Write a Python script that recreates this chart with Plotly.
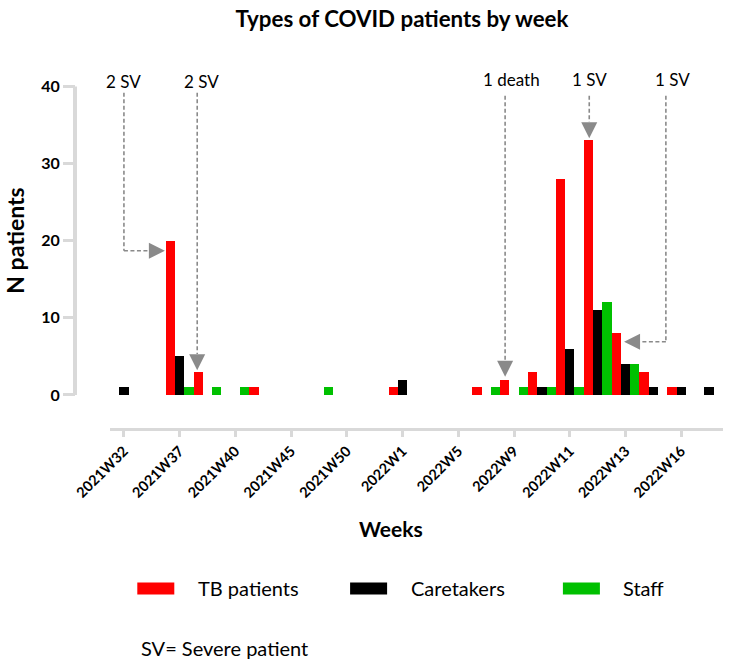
import plotly.graph_objects as go

weeks = ["2021W32", "2021W35", "2021W37", "2021W38", "2021W40", "2021W42",
         "2021W45", "2021W48", "2021W50", "2021W52", "2022W1", "2022W3",
         "2022W5", "2022W8", "2022W9", "2022W10", "2022W11", "2022W12",
         "2022W13", "2022W14", "2022W16", "2022W17"]
tick_weeks = ["2021W32", "2021W37", "2021W40", "2021W45", "2021W50", "2022W1",
              "2022W5", "2022W9", "2022W11", "2022W13", "2022W16"]
tb_patients = [0, 0, 20, 3, 0, 1, 0, 0, 0, 0, 1, 0, 0, 1, 2, 3, 28, 33, 8, 3, 1, 0]
caretakers = [1, 0, 5, 0, 0, 0, 0, 0, 0, 0, 2, 0, 0, 0, 0, 1, 6, 11, 4, 1, 1, 1]
staff = [0, 0, 1, 1, 1, 0, 0, 1, 0, 0, 0, 0, 0, 1, 1, 1, 1, 12, 4, 0, 0, 0]
series_names = ["TB patients", "Caretakers", "Staff"]
series_colors = ["#FF0000", "#000000", "#00C000"]

FONT = "Lato"
GREY = "#d9d9d9"
ARROW = "#8a8a8a"

W, H = 729, 663
ML, MR, MT, MB = 75, 6, 86, 235
PW, PH = W - ML - MR, H - MT - MB


def px(x):
    return (x - ML) / PW


def py(y):
    return (H - MB - y) / PH


fig = go.Figure()
for name, vals, col in zip(series_names, [tb_patients, caretakers, staff], series_colors):
    fig.add_trace(go.Bar(x=weeks, y=vals, name=name, marker=dict(color=col, line=dict(width=0)),
                         showlegend=False))

# annotation arrows (category-index, value coordinates); text y in paper units
arrows = [
    dict(text="2 SV", tx=0.0, ty=py(82), path=[(0.0, 39.2), (0.0, 18.7), (0.88, 18.7)], tip=(1.47, 18.7), ax=-16, ay=0),
    dict(text="2 SV", tx=2.78, ty=py(82), path=[(2.63, 39.2), (2.63, 5.3)], tip=(2.63, 3.2), ax=0, ay=-16),
    dict(text="1 death", tx=13.9, ty=py(79), path=[(13.68, 38.8), (13.68, 4.4)], tip=(13.68, 2.35), ax=0, ay=-16),
    dict(text="1 SV", tx=16.7, ty=py(79), path=[(16.70, 38.8), (16.70, 35.4)], tip=(16.70, 33.3), ax=0, ay=-16),
    dict(text="1 SV", tx=19.68, ty=py(79), path=[(19.45, 38.8), (19.45, 6.9), (18.53, 6.9)], tip=(17.95, 6.9), ax=16, ay=0),
]
shapes = []
annotations = []
for a in arrows:
    pts = a["path"]
    for (x0, y0), (x1, y1) in zip(pts[:-1], pts[1:]):
        shapes.append(dict(type="line", xref="x", yref="y", x0=x0, y0=y0, x1=x1, y1=y1,
                           line=dict(color=ARROW, width=1.6, dash="4px,2.5px")))
    annotations.append(dict(x=a["tip"][0], y=a["tip"][1], xref="x", yref="y", text="",
                            showarrow=True, arrowhead=2, arrowsize=1.6, arrowwidth=2,
                            arrowcolor=ARROW, ax=a["ax"], ay=a["ay"]))
    annotations.append(dict(x=a["tx"], y=a["ty"], xref="x", yref="paper", text=a["text"],
                            showarrow=False, xanchor="center", yanchor="middle",
                            font=dict(family=FONT, size=17, color="#000")))

# y axis line only over the tick range
shapes.append(dict(type="line", xref="paper", yref="y", x0=0, x1=0, y0=0, y1=40,
                   line=dict(color=GREY, width=4)))

# legend (swatch + label)
for i, (name, col) in enumerate(zip(series_names, series_colors)):
    x0 = 137.3 + i * 212.8
    shapes.append(dict(type="rect", xref="paper", yref="paper", x0=px(x0), x1=px(x0 + 37),
                       y0=py(594.5), y1=py(582.5), fillcolor=col, line=dict(width=0)))
    annotations.append(dict(text=name, xref="paper", yref="paper", x=px(x0 + 58.5), y=py(588),
                            showarrow=False, xanchor="left", yanchor="middle",
                            font=dict(family=FONT, size=20, color="#000")))

annotations += [
    dict(text="<b>Weeks</b>", xref="paper", yref="paper", x=px(390.5), y=py(528), showarrow=False,
         font=dict(family=FONT, size=21, color="#000"), xanchor="center", yanchor="middle"),
    dict(text="<b>N patients</b>", xref="paper", yref="y", x=px(15), y=20, showarrow=False,
         textangle=-90, font=dict(family=FONT, size=23, color="#000"), xanchor="center", yanchor="middle"),
    dict(text="SV= Severe patient", xref="paper", yref="paper", x=px(139), y=py(648), showarrow=False,
         font=dict(family=FONT, size=20, color="#000"), xanchor="left", yanchor="middle"),
]

fig.update_layout(
    width=W, height=H,
    margin=dict(l=ML, r=MR, t=MT, b=MB),
    paper_bgcolor="white", plot_bgcolor="white",
    barmode="group", bargap=0, bargroupgap=0,
    showlegend=False,
    title=dict(text="<b>Types of COVID patients by week</b>", xref="paper", x=px(402), xanchor="center",
               y=1 - 19 / H, yanchor="middle", font=dict(family=FONT, size=22.3, color="#000")),
    xaxis=dict(type="category", categoryorder="array", categoryarray=weeks,
               domain=[px(110), 1.0], range=[-0.5, 21.5],
               tickmode="array", tickvals=tick_weeks, ticktext=tick_weeks,
               tickangle=-45, tickfont=dict(family=FONT, size=14.5, color="#000", weight="bold"),
               showline=True, linecolor=GREY, linewidth=3,
               ticks="outside", ticklen=6, tickwidth=3, tickcolor=GREY,
               showgrid=False, zeroline=False),
    yaxis=dict(range=[-4.28, 40.06], anchor="free", position=0,
               tickmode="array", tickvals=[0, 10, 20, 30, 40],
               tickfont=dict(family=FONT, size=16, color="#000", weight="bold"),
               showline=False, ticks="outside", ticklen=12, tickwidth=3, tickcolor=GREY,
               showgrid=False, zeroline=False),
    shapes=shapes, annotations=annotations,
)

fig.write_html("out.html", config={"displayModeBar": False},
               post_script="document.body.style.margin='0';document.body.style.overflow='hidden';")
